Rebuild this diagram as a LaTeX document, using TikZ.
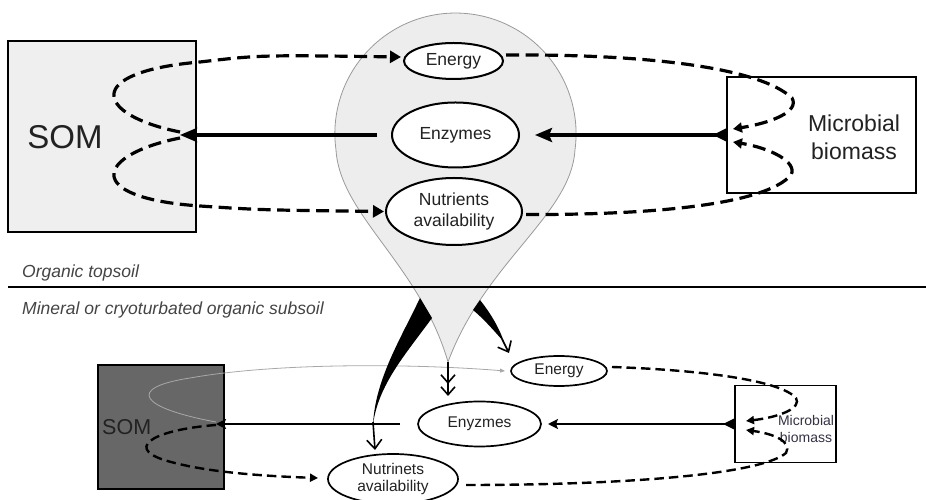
\documentclass[tikz,border=0pt]{standalone}
\usepackage{fontspec}
\setmainfont{Liberation Sans}
\usetikzlibrary{arrows.meta,shapes.geometric}
\definecolor{boxgray}{HTML}{EFEFEF}
\definecolor{balloon}{HTML}{EDEDED}
\definecolor{balloonedge}{HTML}{9A9A9A}
\definecolor{darksom}{HTML}{676767}
\definecolor{txt}{HTML}{222222}
\definecolor{layertxt}{HTML}{444444}
\definecolor{faint}{HTML}{A8A8A8}
\definecolor{micblue}{HTML}{333344}
\newcommand{\myfs}[2]{\fontsize{#1}{#2}\selectfont}
\begin{document}
\begin{tikzpicture}[x=1pt,y=1pt,
  ellT/.style={ellipse, draw, line width=2pt, fill=white, inner sep=0pt, outer sep=0pt, text=txt, align=center, font=\myfs{17.5}{21}},
  ellB/.style={ellipse, draw, line width=1.7pt, fill=white, inner sep=0pt, outer sep=0pt, text=txt, align=center, font=\myfs{15.5}{17}},
  boxT/.style={rectangle, draw, line width=1.4pt, inner sep=0pt, outer sep=0pt},
  solidT/.style={line width=3.4pt, -{Stealth[length=17pt,width=14pt,inset=3pt]}},
  solidB/.style={line width=2.2pt, -{Stealth[length=10pt,width=10pt,inset=2pt]}},
  dashT/.style={line width=3.2pt, dash pattern=on 13pt off 6.5pt, -{Triangle[length=11pt,width=12pt]}},
  dashTm/.style={line width=3.2pt, dash pattern=on 13pt off 6.5pt, -{Triangle[length=9pt,width=10pt]}},
  dashB/.style={line width=2.4pt, dash pattern=on 9.5pt off 5pt, -{Triangle[length=8pt,width=8pt]}},
  barb/.style={line width=1.6pt, -{Straight Barb[length=9pt,width=15pt]}},
  layer/.style={anchor=west, inner sep=0pt, text=layertxt, font=\myfs{17.5}{20}\itshape},
]
\useasboundingbox (0,0) rectangle (926,500);

% ---------- top boxes ----------
\node[boxT, fill=boxgray, minimum width=188pt, minimum height=191pt] (somT) at (102,363.5) {};
\node[text=txt, font=\myfs{33}{33}] (somTlab) at (65,363) {SOM};
\node[boxT, fill=white, minimum width=189pt, minimum height=116pt] (micT) at (821.5,365) {};
\node[text=txt, align=center, font=\myfs{23}{28}] (micTlab) at (854,362.5) {Microbial\\biomass};

% ---------- balloon ----------
\filldraw[fill=balloon, draw=balloonedge, line width=0.8pt]
  (448,138) .. controls (420,235) and (340,285) .. (336,350)
  arc[start angle=187.8, end angle=-7.8, radius=120.6]
  .. controls (571,285) and (485,238) .. (448,138) -- cycle;

% ---------- layer separator ----------
\draw[line width=2pt] (8,213) -- (926,213);
\node[layer] (toplab) at (22,227) {Organic topsoil};
\node[layer] (sublab) at (22,190) {Mineral or cryoturbated organic subsoil};

% ---------- top ellipses ----------
\node[ellT, minimum width=99pt, minimum height=36pt] (enT) at (453.5,439) {Energy};
\node[ellT, minimum width=127pt, minimum height=65pt] (enzT) at (455.5,365) {Enzymes};
\node[ellT, minimum width=136pt, minimum height=67pt] (nuT) at (454,288.5) {Nutrients\\availability};

\coordinate (somTipT) at (180,365);

% ---------- top connectors ----------
\draw[solidT, shorten <=15pt] (enzT.west) -- (somTipT);
\draw[solidT, shorten >=16pt] (micT.west) -- (enzT.east);
\fill (micT.west) ++(0,7) -- ++(-14,-7) -- ++(14,-7) -- cycle;

\draw[dashT] ([yshift=3pt]somTipT) .. controls (95,385) and (82,428) .. (200,438)
  .. controls (260,445) .. ([shift={(-3,4)}]enT.west);
\draw[dashT] ([yshift=-3pt]somTipT) .. controls (95,345) and (82,302) .. (200,294)
  .. controls (260,290) .. ([xshift=-2pt]nuT.west);
\draw[dashTm] ([shift={(3,6)}]enT.east) .. controls (650,446) and (760,432) .. (792,402)
  .. controls (800,388) and (770,377) .. ([shift={(6,6)}]micT.west);
\draw[dashTm] ([shift={(4,-3)}]nuT.east) .. controls (650,285) and (765,295) .. (791,325)
  .. controls (798,338) and (770,352) .. ([shift={(6,-7)}]micT.west);

% ---------- bottom boxes ----------
\node[boxT, fill=darksom, minimum width=126pt, minimum height=124pt] (somB) at (161,73) {};
\node[text=txt, font=\myfs{21.5}{21.5}, anchor=west, inner sep=0pt] (somBlab) at (102,73) {SOM};
\node[boxT, fill=white, minimum width=101pt, minimum height=77pt] (micB) at (785.5,76) {};
\node[text=micblue, align=center, font=\myfs{14}{17}] (micBlab) at (806,71.5) {Microbial\\biomass};

% ---------- bottom ellipses ----------
\node[ellB, minimum width=96pt, minimum height=30pt] (enB) at (559,129) {Energy};
\node[ellB, minimum width=123pt, minimum height=45pt] (eyB) at (479.5,76) {Enyzmes};
\node[ellB, minimum width=130pt, minimum height=50pt] (nuB) at (393,21) {Nutrinets\\availability};

\coordinate (somTipB) at (216,76);

% ---------- bottom connectors ----------
\draw[faint, line width=0.8pt, -{Triangle[length=5pt,width=4pt]}] ([yshift=2pt]somTipB)
  .. controls (140,92) and (125,112) .. (190,122)
  .. controls (280,138) and (420,136) .. ([xshift=-6pt]enB.west);
\draw[solidB, shorten <=18pt] (eyB.west) -- (somTipB);
\draw[solidB, shorten >=7pt] (micB.west) -- (eyB.east);
\fill (micB.west) ++(0,6) -- ++(-12,-6) -- ++(12,-6) -- cycle;

\draw[dashB] ([yshift=-1pt]somTipB) .. controls (150,70) and (120,50) .. (175,37)
  .. controls (210,28) and (260,24) .. ([shift={(-10,1)}]nuB.west);
\draw[dashB] ([shift={(5,4)}]enB.east) .. controls (700,130) and (780,120) .. (796,102)
  .. controls (802,92) and (780,83) .. ([shift={(11,3)}]micB.west);
\draw[dashB] ([shift={(8,-6)}]nuB.east) .. controls (620,15) and (760,25) .. (786,47)
  .. controls (792,58) and (775,66) .. ([shift={(11,-6)}]micB.west);

% ---------- swooshes from the balloon ----------
\fill[black] (420,202) .. controls (400,160) and (375,120) .. (373,75)
  .. controls (378,115) and (405,145) .. (432,182) -- cycle;
\coordinate (lsA) at (373,78);
\coordinate (lsB) at (375,50);
\draw[barb] (lsA) -- (lsB);

\fill[black] (480,200) .. controls (492,185) and (500,170) .. (504,158)
  .. controls (495,168) and (485,180) .. (473,190) -- cycle;
\coordinate (rsA) at (502,161);
\coordinate (rsB) at (509,147);
\draw[barb] (rsA) -- (rsB);

\coordinate (tipA) at (448,138);
\coordinate (tipB) at (448,104);
\draw[line width=1.6pt, -{Straight Barb[length=8pt,width=14pt,sep=2pt] Straight Barb[length=8pt,width=14pt]}] (tipA) -- (tipB);
\end{tikzpicture}
\end{document}
